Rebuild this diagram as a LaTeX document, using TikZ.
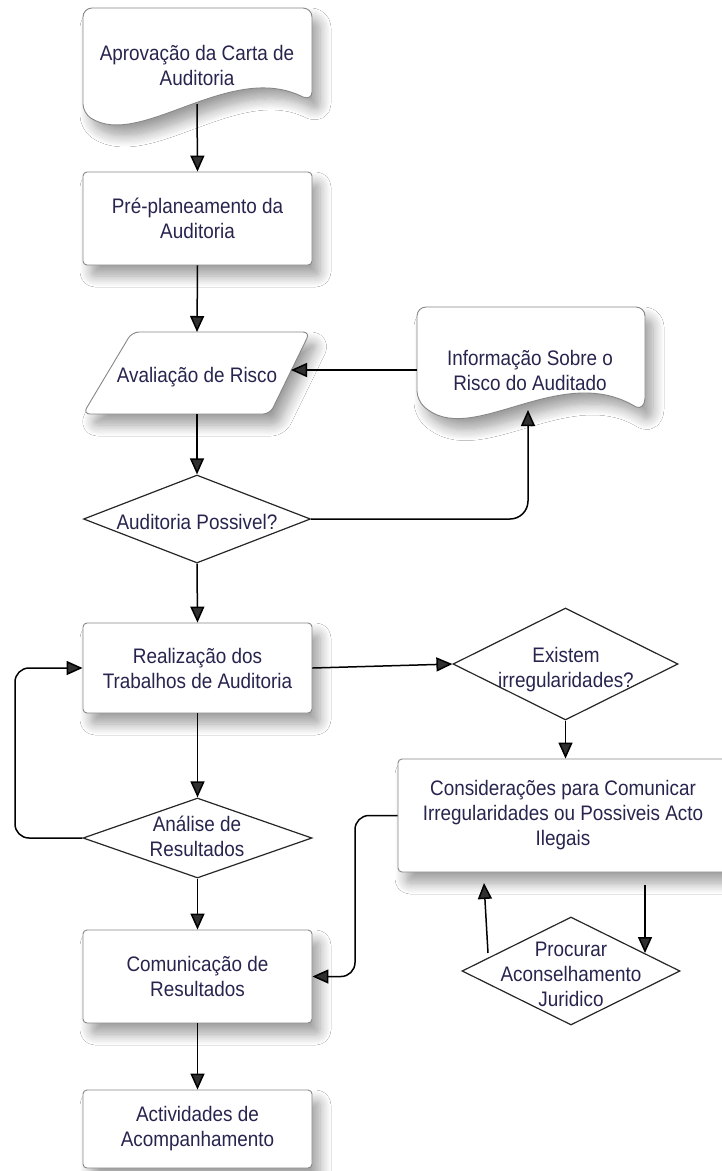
\documentclass[tikz,border=0pt]{standalone}
\usepackage{fontspec}
\newfontfamily\nf{Liberation Sans}[FakeStretch=0.9]
\usetikzlibrary{shapes.geometric,arrows.meta,shadows.blur}
\definecolor{txt}{RGB}{40,36,78}
\definecolor{bord}{RGB}{135,135,135}
\begin{document}
\begin{tikzpicture}[x=1pt,y=-1pt,
  lab/.style={font=\nf\fontsize{21}{25}\selectfont, text=txt, align=center, inner sep=0pt},
  shade/.style={blur shadow={shadow xshift=8pt, shadow yshift=-11pt, shadow blur radius=11pt, shadow blur steps=10, shadow opacity=38}},
  box/.style={lab, draw=bord, line width=0.9pt, rounded corners=4pt, fill=white, shade, minimum width=229pt, minimum height=92pt},
  shapeline/.style={draw=bord, line width=0.9pt, fill=white, shade},
  dia/.style={diamond, draw=black!85, line width=1.2pt, fill=white, inner sep=0pt},
  arr/.style={line width=1.5pt, -{Triangle[length=16pt,width=14pt]}},
]
\useasboundingbox[fill=white] (0,0) rectangle (722,1171);

% --- document shape: Aprovacao
\path[shapeline, rounded corners=9pt] (312,92) -- (312,8) -- (83,8) -- (83,113) [sharp corners]
  .. controls (140,150) and (230,60) .. (303,97)
  .. controls (308,99) and (312,97) .. (312,92) -- cycle;
\node[lab] (n1) at (197,65) {Aprovação da Carta de\\Auditoria};
\coordinate (n1b) at (197,104);

% --- Pre-planeamento
\node[box, minimum height=93pt] (n2) at (197.5,218.5) {Pré-planeamento da\\Auditoria};

% --- parallelogram: Avaliacao de Risco
\path[shapeline, rounded corners=7pt] (132,332) -- (310,332) -- (270,414) -- (83,414) -- cycle;
\node[lab] (n3) at (197,377) {Avaliação de Risco};
\coordinate (n3t) at (197,332);
\coordinate (n3b) at (197,414);
\coordinate (n3r) at (291,370);

% --- document shape: Informacao
\path[shapeline, rounded corners=9pt] (645,398) -- (645,307) -- (417,307) -- (417,400) [sharp corners]
  .. controls (470,450) and (560,360) .. (636,407)
  .. controls (641,409) and (645,405) .. (645,398) -- cycle;
\node[lab] (info) at (530,370) {Informação Sobre o\\Risco do Auditado};
\coordinate (infoL) at (417,370);
\coordinate (infoB) at (528,410);

% --- diamond: Auditoria Possivel?
\node[dia, minimum width=227pt, minimum height=88pt] (d1) at (197,519) {};
\node[lab] (d1t) at (197,522) {Auditoria Possivel?};

% --- Realizacao
\node[box, minimum height=90pt] (n4) at (197.5,668) {Realização dos\\Trabalhos de Auditoria};

% --- diamond: Existem irregularidades?
\node[dia, minimum width=225pt, minimum height=112pt] (d2) at (565.5,664) {};
\node[lab] (d2t) at (566,670) {Existem\\irregularidades?};

% --- Consideracoes
\node[box, minimum width=330pt, minimum height=113pt] (cons) at (563,815.5) {Considerações para Comunicar\\Irregularidades ou Possiveis Acto\\Ilegais};

% --- diamond: Analise de Resultados
\node[dia, minimum width=229pt, minimum height=80pt] (d3) at (197.5,838) {};
\node[lab] (d3t) at (197,836) {Análise de\\Resultados};

% --- diamond: Procurar Aconselhamento Juridico
\node[dia, minimum width=218pt, minimum height=108pt] (d4) at (571,971) {};
\node[lab] (d4t) at (571,974) {Procurar\\Aconselhamento\\Juridico};

% --- Comunicacao
\node[box, minimum height=93pt] (n5) at (197.5,976.5) {Comunicação de\\Resultados};

% --- Actividades
\node[box, minimum height=78pt] (n6) at (197.5,1129) {Actividades de\\Acompanhamento};

% --- connectors
\draw[arr] (n1b) -- (n2.north);
\draw[arr] (n2.south) -- (n3t);
\draw[arr] (n3b) -- (d1.north);
\draw[arr] (infoL) -- (n3r);
\draw[arr, rounded corners=18pt] (d1.east) -| (infoB);
\draw[arr] (d1.south) -- (n4.north);
\draw[arr] (n4.east) -- (d2.west);
\draw[arr] (d2.south) -- (d2.south |- cons.north);
\draw[arr] (n4.south) -- (d3.north);
\coordinate (loopx) at (15,0);
\draw[arr, rounded corners=14pt] (d3.west) -- (d3.west -| loopx) -- (loopx |- n4.west) -- (n4.west);
\draw[arr] (d3.south) -- (n5.north);
\coordinate (cx) at (355,0);
\draw[arr, rounded corners=14pt] (cons.west) -- (cons.west -| cx) -- (cx |- n5.east) -- (n5.east);
\draw[arr] (n5.south) -- (n6.north);
\coordinate (pu1) at (488,953);
\coordinate (pu2) at (484,883);
\coordinate (pd1) at (645,885);
\coordinate (pd2) at (645,953);
\draw[arr] (pu1) -- (pu2);
\draw[arr] (pd1) -- (pd2);
\end{tikzpicture}
\end{document}
